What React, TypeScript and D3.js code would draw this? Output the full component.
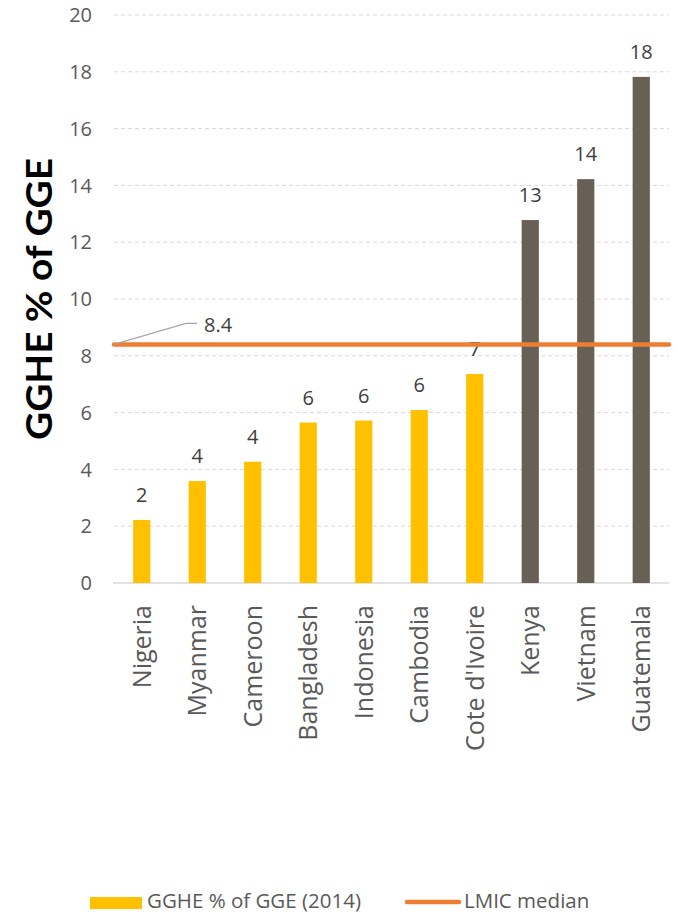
import React from "react";
import * as d3 from "d3";

const categories = ["Nigeria", "Myanmar", "Cameroon", "Bangladesh", "Indonesia", "Cambodia", "Cote d'Ivoire", "Kenya", "Vietnam", "Guatemala"];
const values = [2.22, 3.59, 4.27, 5.65, 5.72, 6.09, 7.36, 12.78, 14.22, 17.82];
const highlighted = [false, false, false, false, false, false, false, true, true, true];
const medianValue = 8.4;
const yTicks = [0, 2, 4, 6, 8, 10, 12, 14, 16, 18, 20];
const seriesName = "GGHE % of GGE (2014)";
const medianName = "LMIC median";
const yTitle = "GGHE % of GGE";

const W = 677;
const H = 915;
const left = 114;
const right = 669;
const top = 15;
const bottom = 583;

const YELLOW = "#FFC000";
const DARK = "#686055";
const ORANGE = "#ED7D31";
const TEXT = "#595959";
const LABEL = "#404040";
const FONT = "'Open Sans', 'Liberation Sans', sans-serif";

export default function App() {
  const x = d3.scaleBand<string>().domain(categories).range([left, right]).paddingInner(0.69).paddingOuter(0.345);
  const y = d3.scaleLinear().domain([0, 20]).range([bottom, top]);
  const yMed = y(medianValue);

  return (
    <svg width={W} height={H} style={{ position: "absolute", left: 0, top: 0, background: "#fff" }} fontFamily={FONT}>
      {yTicks.map((t) =>
        t === 0 ? null : (
          <line key={"g" + t} x1={left} x2={right} y1={y(t)} y2={y(t)} stroke="#D9D9D9" strokeWidth={1} strokeDasharray="4 3" />
        )
      )}
      <line x1={left - 1} x2={right} y1={bottom} y2={bottom} stroke="#D9D9D9" strokeWidth={1.5} />
      {yTicks.map((t) => (
        <text key={"t" + t} x={92} y={y(t)} dy="0.36em" textAnchor="end" fontSize={20} fill={TEXT}>
          {t}
        </text>
      ))}
      <text
        transform={`translate(52,299) rotate(-90)`}
        textAnchor="middle"
        fontSize={37}
        fontWeight="bold"
        fill="#000"
        fontFamily="Lato, 'DejaVu Sans', sans-serif"
        textLength={282}
        lengthAdjust="spacingAndGlyphs"
      >
        {yTitle}
      </text>
      {categories.map((c, i) => (
        <g key={c}>
          <rect
            x={x(c)!}
            y={y(values[i])}
            width={x.bandwidth()}
            height={bottom - y(values[i])}
            fill={highlighted[i] ? DARK : YELLOW}
          />
          <text x={x(c)! + x.bandwidth() / 2} y={y(values[i]) - 18} textAnchor="middle" fontSize={20} fill={LABEL}>
            {d3.format(".0f")(values[i])}
          </text>
          <text
            transform={`translate(${x(c)! + x.bandwidth() / 2 + 9},605) rotate(-90)`}
            textAnchor="end"
            fontSize={25}
            fill={TEXT}
          >
            {c}
          </text>
        </g>
      ))}
      <line x1={left} x2={right} y1={yMed} y2={yMed} stroke={ORANGE} strokeWidth={4.5} strokeLinecap="round" />
      <polyline points={`${left},${yMed} ${186},${yMed - 21} ${197},${yMed - 21}`} fill="none" stroke="#A6A6A6" strokeWidth={1.2} />
      <text x={204} y={yMed - 20} dy="0.36em" fontSize={20} fill={LABEL}>
        {medianValue}
      </text>
      <rect x={90} y={897} width={52} height={12} fill={YELLOW} />
      <text x={147} y={908} fontSize={20.5} fill={TEXT}>
        {seriesName}
      </text>
      <line x1={407} x2={459} y1={902} y2={902} stroke={ORANGE} strokeWidth={4.5} strokeLinecap="round" />
      <text x={464} y={908} fontSize={20.5} fill={TEXT}>
        {medianName}
      </text>
    </svg>
  );
}
